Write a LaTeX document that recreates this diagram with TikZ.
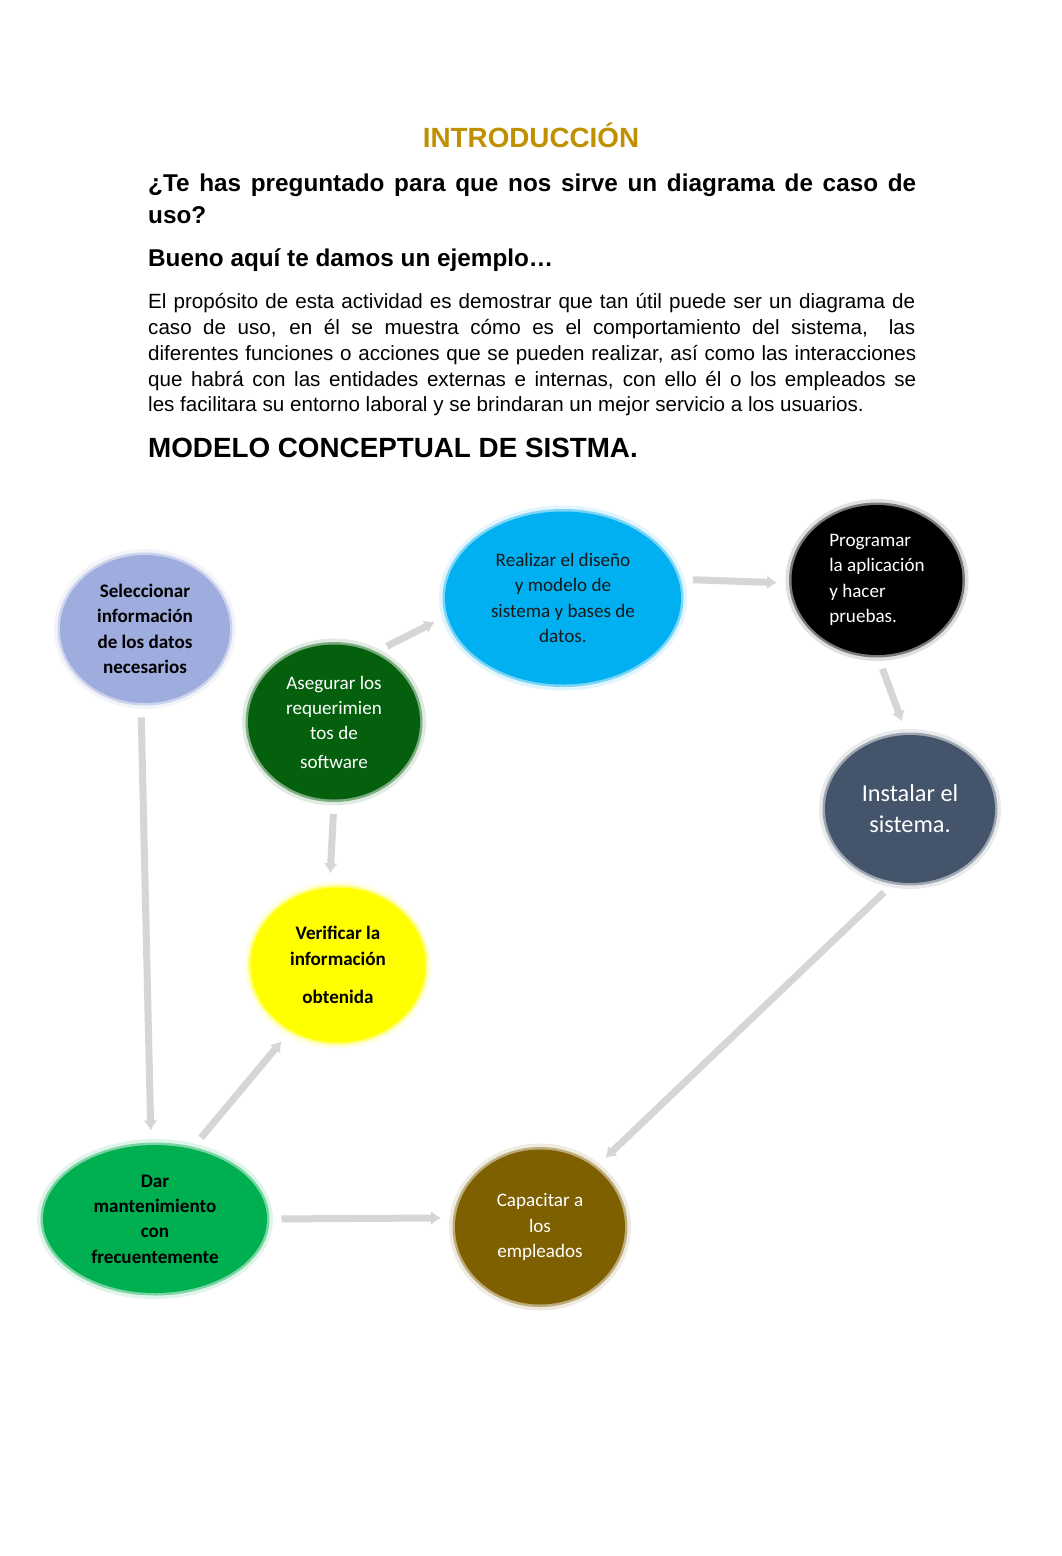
\documentclass[tikz,border=0pt]{standalone}
\usepackage{fontspec}
\setmainfont{Liberation Sans}
\newfontfamily\calfont{Carlito}
\usetikzlibrary{shapes.geometric,arrows.meta}
\definecolor{titlegold}{HTML}{BF9000}
\definecolor{cSel}{RGB}{158,172,222}
\definecolor{cAse}{RGB}{4,96,12}
\definecolor{cRea}{HTML}{00B0F0}
\definecolor{cPro}{HTML}{000000}
\definecolor{cIns}{HTML}{44546A}
\definecolor{cVer}{HTML}{FFFF00}
\definecolor{cDar}{HTML}{00B050}
\definecolor{cCap}{HTML}{7F6000}
\definecolor{linkgray}{RGB}{214,214,214}
\begin{document}
\begin{tikzpicture}[x=1pt,y=-1pt,
  blob/.style={ellipse, inner sep=0pt, fill=#1, draw=#1, line width=5pt, draw opacity=0.45,
    preaction={draw=#1, draw opacity=0.12, line width=12pt}},
  ntext/.style={font=\calfont\fontsize{19.1}{25.3}\selectfont, align=center},
  link/.style={draw=linkgray, line width=7pt, -{Latex[length=10pt,width=14pt]},
    shorten <=12pt, shorten >=12pt},
  head/.style={anchor=base west, inner sep=0pt},
  bodytext/.style={head, font=\fontsize{20.6}{25}\selectfont},
]
\useasboundingbox (0,0) rectangle (1062,1556);
\fill[white] (0,0) rectangle (1062,1556);

% ---------- heading text ----------
\node[anchor=base, inner sep=0pt, text=titlegold, font=\bfseries\fontsize{27.8}{33}\selectfont] (title) at (531,147) {INTRODUCCIÓN};
\node[head, font=\bfseries\fontsize{24.3}{29}\selectfont] (q1) at (148,191) {\makebox[768pt][s]{¿Te has preguntado para que nos sirve un diagrama de caso de}};
\node[head, font=\bfseries\fontsize{24.3}{29}\selectfont] (q2) at (148,223) {uso?};
\node[head, font=\bfseries\fontsize{24.3}{29}\selectfont] (q3) at (148,266) {Bueno aquí te damos un ejemplo…};
\node[bodytext] (b1) at (148,308) {\makebox[767pt][s]{El propósito de esta actividad es demostrar que tan útil puede ser un diagrama de}};
\node[bodytext] (b2) at (148,334) {\makebox[767pt][s]{caso de uso, en él se muestra cómo es el comportamiento del sistema,\hspace{8pt} las}};
\node[bodytext] (b3) at (148,360) {\makebox[768pt][s]{diferentes funciones o acciones que se pueden realizar, así como las interacciones}};
\node[bodytext] (b4) at (148,386) {\makebox[768pt][s]{que habrá con las entidades externas e internas, con ello él o los empleados se}};
\node[bodytext] (b5) at (148,411) {les facilitara su entorno laboral y se brindaran un mejor servicio a los usuarios.};
\node[head, font=\bfseries\fontsize{27.8}{33}\selectfont] (modelo) at (148,457) {MODELO CONCEPTUAL DE SISTMA.};

% ---------- nodes ----------
\node[blob=cSel, minimum width=170pt, minimum height=148pt, ntext, font=\calfont\bfseries\fontsize{19.1}{25.3}\selectfont, text=black] (sel) at (145,629)
  {Seleccionar\\información\\de los datos\\necesarios};
\node[blob=cAse, minimum width=172pt, minimum height=155pt, ntext, text=white] (ase) at (334,722)
  {Asegurar los\\requerimien\\tos de\\[3pt]software};
\node[blob=cRea, minimum width=236pt, minimum height=173pt, ntext, text=black!90] (rea) at (563,598)
  {Realizar el diseño\\y modelo de\\sistema y bases de\\datos.};
\node[blob=cPro, minimum width=171pt, minimum height=150pt, ntext, align=left, text=white] (pro) at (877,580)
  {Programar\\la aplicación\\y hacer\\pruebas.};
\node[blob=cIns, minimum width=170pt, minimum height=148pt, font=\calfont\fontsize{24.3}{31}\selectfont, align=center, text=white] (ins) at (910,809)
  {Instalar el\\sistema.};
\node[blob=cVer, minimum width=175pt, minimum height=155pt, ntext, font=\calfont\bfseries\fontsize{19.1}{25.3}\selectfont, text=black] (ver) at (338,965)
  {Verificar la\\información\\[13pt]obtenida};
\node[blob=cDar, minimum width=224pt, minimum height=148pt, ntext, font=\calfont\bfseries\fontsize{19.1}{25.3}\selectfont, text=black] (dar) at (155,1219)
  {Dar\\mantenimiento\\con\\frecuentemente};
\node[blob=cCap, minimum width=170pt, minimum height=155pt, ntext, text=white] (cap) at (540,1227)
  {Capacitar a\\los\\empleados};

% ---------- connectors ----------
\draw[link] (ase.59) -- (rea.189);
\draw[link] (rea.9) -- (pro.182);
\draw[link] (pro.271) -- (ins.93);
\draw[link] (ase.270) -- (ver.96);
\draw[link] (sel.267) -- (dar.93);
\draw[link] (dar.62) -- (ver.234);
\draw[link] (dar.0) -- (cap.174);
\draw[link] (ins.257) -- (cap.47);
\end{tikzpicture}
\end{document}
